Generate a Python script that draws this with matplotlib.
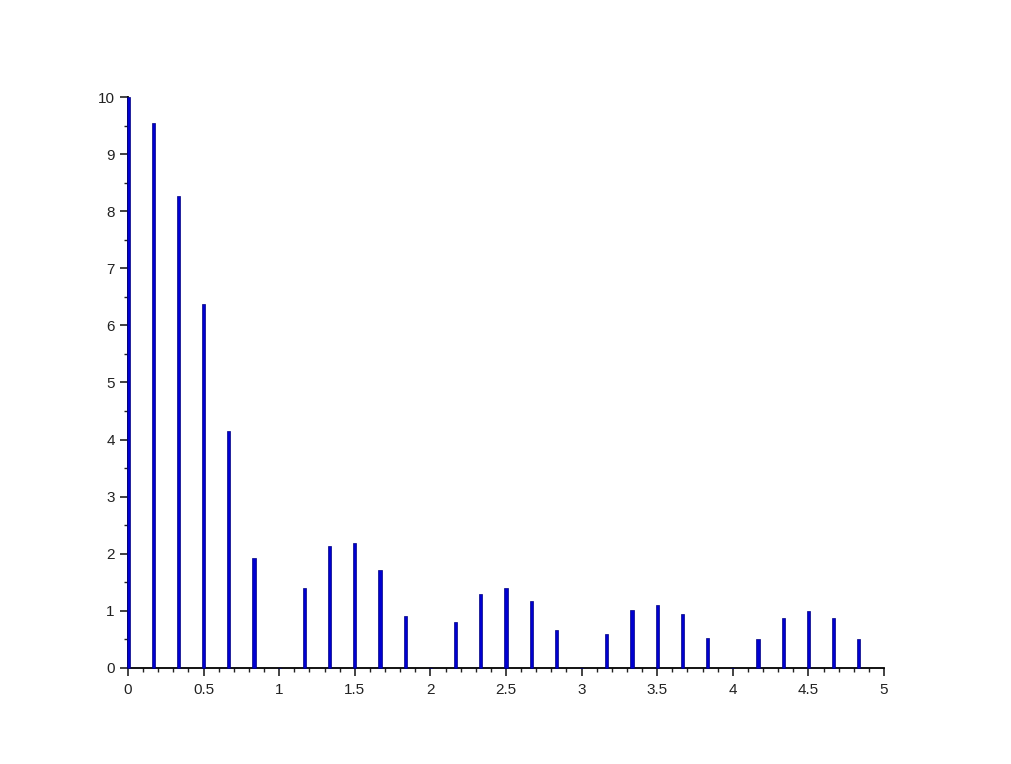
import numpy as np
import matplotlib
matplotlib.use('Agg')
import matplotlib.pyplot as plt
from matplotlib.ticker import MultipleLocator

plt.rcParams['font.family'] = ['Liberation Sans', 'DejaVu Sans']

# positions des barres (pas de 1/6) et hauteurs
x = [0, 0.1667, 0.3333, 0.5, 0.6667, 0.8333, 1.0, 1.1667, 1.3333, 1.5,
     1.6667, 1.8333, 2.0, 2.1667, 2.3333, 2.5, 2.6667, 2.8333, 3.0, 3.1667,
     3.3333, 3.5, 3.6667, 3.8333, 4.0, 4.1667, 4.3333, 4.5, 4.6667, 4.8333]
y = [10.0, 9.54, 8.27, 6.38, 4.15, 1.92, 0.0, 1.40, 2.13, 2.19,
     1.72, 0.91, 0.0, 0.80, 1.29, 1.40, 1.17, 0.66, 0.0, 0.59,
     1.01, 1.11, 0.94, 0.53, 0.0, 0.51, 0.88, 1.00, 0.88, 0.51]

fig = plt.figure(figsize=(10.12, 7.64), dpi=100)
ax = fig.add_axes([0.1265, 0.1257, 0.747, 0.7473])

ax.bar(x, y, width=0.02, color='#0000d0', edgecolor='#000080', linewidth=0.5,
       zorder=3, clip_on=False)

ax.set_xlim(0, 5)
ax.set_ylim(0, 10)
ax.xaxis.set_major_locator(MultipleLocator(0.5))
ax.xaxis.set_minor_locator(MultipleLocator(0.1))
ax.yaxis.set_major_locator(MultipleLocator(1))
ax.yaxis.set_minor_locator(MultipleLocator(0.5))
ax.xaxis.set_major_formatter(plt.FuncFormatter(lambda v, p: ('%g' % v)))

ax.spines['top'].set_visible(False)
ax.spines['right'].set_visible(False)
ax.spines['left'].set_linewidth(1.3)
ax.spines['bottom'].set_linewidth(1.3)
ax.tick_params(which='major', length=6, width=1.2, labelsize=11, colors='#222222')
ax.tick_params(axis='x', which='major', pad=5)
ax.tick_params(which='minor', length=3, width=1.0, colors='#222222')

plt.savefig('out.png', dpi=100)
